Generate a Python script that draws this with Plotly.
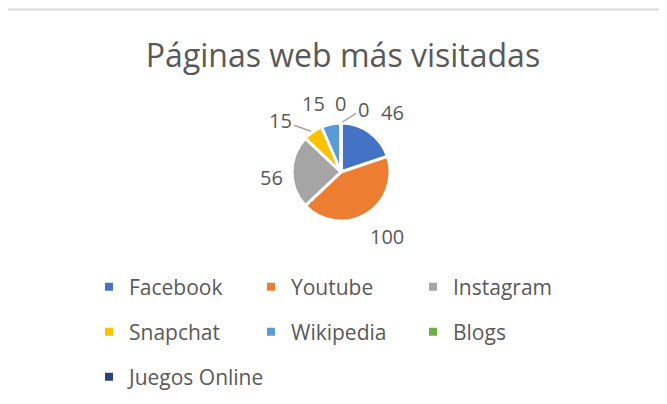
import math
import plotly.graph_objects as go

W, H = 667, 404

categories = ["Facebook", "Youtube", "Instagram", "Snapchat", "Wikipedia", "Blogs", "Juegos Online"]
values = [46, 100, 56, 15, 15, 0, 0]
colors = ["#4472C4", "#ED7D31", "#A5A5A5", "#FFC000", "#5B9BD5", "#70AD47", "#264478"]
title_text = "Páginas web más visitadas"

TEXT = "#595959"
LEADER = "#A6A6A6"
FONT = "Open Sans"

# the page body adds an 8px offset; positions below are in figure pixels
OFF = 8
# pie placement (pixels from top-left of the figure)
cx, cy, r = 341 - OFF, 172 - OFF, 49
# data-label placement, Excel "best fit" style: offset of each label from the
# outer edge of its slice (at the slice's mid-angle), and whether a leader line is drawn
label_offsets = [(23, -20), (21, 23), (-21, 5), (-32, -11), (-18, -21), (-1, -20), (22, -14)]
label_leaders = [False, False, False, True, False, False, True]

fig = go.Figure()
fig.add_trace(go.Pie(
    labels=categories,
    values=values,
    sort=False,
    direction="clockwise",
    rotation=0,
    marker=dict(colors=colors, line=dict(color="white", width=3)),
    textinfo="none",
    showlegend=False,
    hoverinfo="label+value",
    domain=dict(x=[(cx - r) / W, (cx + r) / W], y=[(H - cy - r) / H, (H - cy + r) / H]),
))

# data labels anchored on each slice's mid-angle
annotations = []
total = sum(values)
cum = 0.0
for v, (ox, oy), lead in zip(values, label_offsets, label_leaders):
    theta = 2 * math.pi * (cum + v / 2) / total
    cum += v
    px = cx + r * math.sin(theta)
    py = cy - r * math.cos(theta)
    a = dict(text=str(v), xref="paper", yref="paper", x=px / W, y=1 - py / H,
             font=dict(family=FONT, size=20, color=TEXT))
    if lead:
        a.update(showarrow=True, ax=ox, ay=oy, arrowhead=0, arrowwidth=1.5,
                 arrowcolor=LEADER, standoff=2)
    else:
        a.update(showarrow=False, xshift=ox, yshift=-oy, xanchor="center", yanchor="middle")
    annotations.append(a)

# legend rows (3 per row)
legend_names = ["legend", "legend2", "legend3"]
for i, (lab, col) in enumerate(zip(categories, colors)):
    fig.add_trace(go.Scatter(
        x=[None], y=[None], mode="markers", name=lab,
        marker=dict(symbol="square", size=8, color=col),
        legend=legend_names[i // 3], hoverinfo="skip",
    ))

row_y = [279, 324, 369]
leg_common = dict(
    orientation="h", xanchor="left", yanchor="middle",
    font=dict(family=FONT, size=21, color=TEXT),
    bgcolor="rgba(0,0,0,0)", borderwidth=0,
)
lx = 81 / W

fig.update_layout(
    width=W, height=H,
    margin=dict(l=0, r=0, t=0, b=0, autoexpand=False),
    paper_bgcolor="white", plot_bgcolor="white",
    title=dict(text=title_text, x=335 / W, xanchor="center", y=1 - 48 / H, yanchor="middle",
               font=dict(family=FONT, size=32, color=TEXT)),
    xaxis=dict(visible=False), yaxis=dict(visible=False),
    legend=dict(x=lx, y=1 - row_y[0] / H, entrywidth=117, entrywidthmode="pixels", **leg_common),
    legend2=dict(x=lx, y=1 - row_y[1] / H, entrywidth=117, entrywidthmode="pixels", **leg_common),
    legend3=dict(x=lx, y=1 - row_y[2] / H, entrywidth=0, **leg_common),
    annotations=annotations,
    shapes=[dict(type="rect", xref="paper", yref="paper",
                 x0=(5.5 - OFF) / W, x1=1.2, y0=-0.2, y1=1 - (9.5 - OFF) / H,
                 line=dict(color="#D9D9D9", width=2), layer="below")],
)

fig.write_html("out.html")
